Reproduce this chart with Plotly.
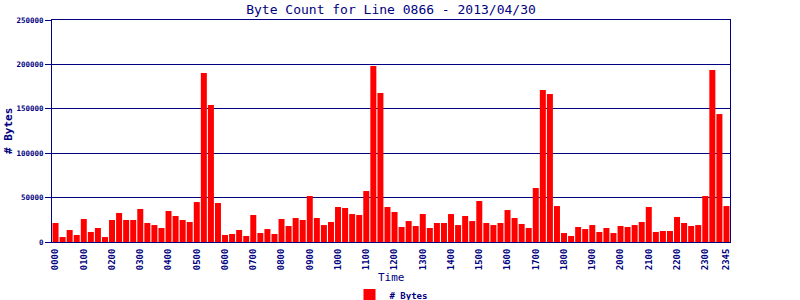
import plotly.graph_objects as go

# 15-minute intervals 0000..2345
times = [f"{h:02d}{m:02d}" for h in range(24) for m in (0, 15, 30, 45)]

byte_counts = [
    21400, 5600, 13500, 7900, 25900, 11300, 15800, 5600,
    24800, 32700, 24800, 24800, 37200, 21400, 19100, 15800,
    34900, 29300, 24800, 22500, 45000, 190300, 154300, 43900,
    7900, 9000, 13500, 6800, 30400, 10100, 14600, 9000,
    25900, 18000, 27000, 24800, 51800, 27000, 19100, 22500,
    39400, 38300, 31500, 30400, 57400, 198200, 167800, 39400,
    33800, 16900, 23600, 18000, 31500, 15800, 21400, 21400,
    31500, 19100, 29300, 23600, 46200, 21400, 19100, 21400,
    36000, 27000, 20300, 15800, 60800, 171200, 166700, 40500,
    10100, 6800, 16900, 14600, 19100, 11300, 15800, 10100,
    18000, 16900, 19100, 22500, 39400, 11300, 12400, 12400,
    28200, 21400, 18000, 19100, 51800, 193700, 144100, 40500,
]

tick_labels = [f"{h:02d}00" for h in range(24)] + ["2345"]

NAVY = "#000080"
FONT = "DejaVu Sans Mono"

x_idx = list(range(len(times)))
tick_vals = [times.index(t) for t in tick_labels]

fig = go.Figure()
fig.add_trace(go.Bar(
    x=x_idx, y=byte_counts, name="# Bytes",
    marker=dict(color="#FF0000", line=dict(width=0)),
))

fig.update_layout(
    width=800, height=300,
    margin=dict(l=52, r=70, t=20, b=58),
    paper_bgcolor="white", plot_bgcolor="white",
    bargap=0.15,
    title=dict(text="Byte Count for Line 0866 - 2013/04/30",
               font=dict(family=FONT, size=13, color=NAVY),
               x=0.5, xanchor="center", xref="paper",
               y=1 - 9 / 300, yanchor="middle", yref="container"),
    showlegend=True,
    legend=dict(orientation="h", x=0.5, xanchor="center", xref="paper",
                y=5 / 300, yanchor="middle", yref="container",
                font=dict(family=FONT, size=9, color=NAVY, weight="bold"),
                itemwidth=30),
    xaxis=dict(
        range=[-0.5, 95.5], automargin=False,
        tickmode="array", tickvals=tick_vals, ticktext=tick_labels,
        tickangle=-90,
        tickfont=dict(family=FONT, size=9, color=NAVY, weight="bold"),
        showline=True, linecolor=NAVY, linewidth=1, mirror=True,
        showgrid=False, ticks="outside", ticklen=2, tickcolor="rgba(0,0,0,0)",
        zeroline=False,
    ),
    yaxis=dict(
        range=[0, 250000], dtick=50000, automargin=False,
        tickformat="d",
        tickfont=dict(family=FONT, size=7.5, color=NAVY, weight="bold"),
        showline=True, linecolor=NAVY, linewidth=1, mirror=True,
        showgrid=True, gridcolor=NAVY, gridwidth=1,
        ticks="outside", ticklen=6, tickcolor=NAVY,
        zeroline=False,
    ),
    annotations=[
        dict(text="Time", xref="paper", yref="paper", x=0.5, y=-35 / 222,
             xanchor="center", yanchor="middle", showarrow=False,
             font=dict(family=FONT, size=11, color=NAVY)),
        dict(text="# Bytes", xref="paper", yref="paper", x=-44 / 678, y=0.5,
             xanchor="center", yanchor="middle", showarrow=False, textangle=-90,
             font=dict(family=FONT, size=11, color=NAVY, weight="bold")),
    ],
)

fig.write_html("out.html")
